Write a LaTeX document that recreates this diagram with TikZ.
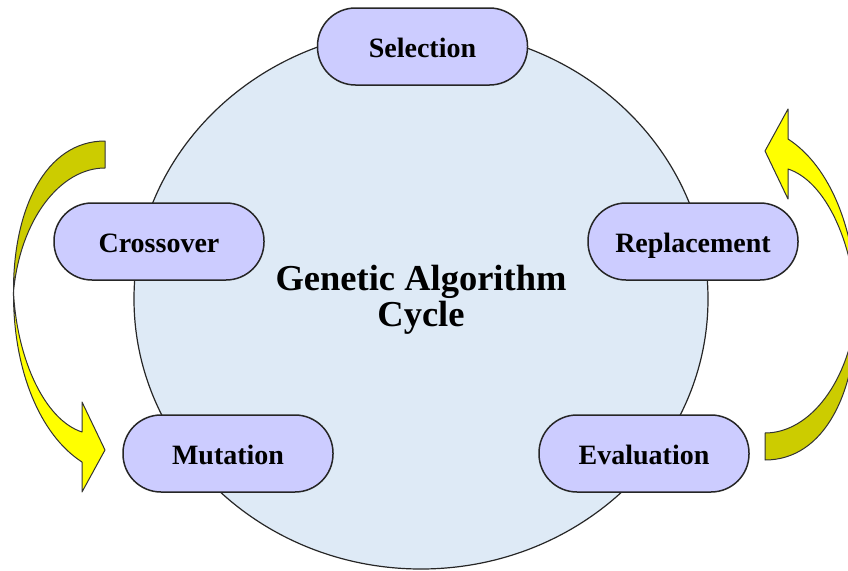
\documentclass[tikz,border=0pt]{standalone}
\usepackage{fontspec}
\setmainfont{Liberation Serif}
\usetikzlibrary{shapes.geometric}
\definecolor{cyclefill}{HTML}{DEEAF6}
\definecolor{boxfill}{HTML}{CCCCFF}
\definecolor{darkyellow}{HTML}{CCCC00}
\definecolor{brightyellow}{HTML}{FFFF00}
\tikzset{
  stagebox/.style={draw=black!85, line width=1.5pt, fill=boxfill, rounded corners=38pt,
    minimum width=210pt, minimum height=77pt, inner sep=0pt,
    text height=22pt, text depth=0pt,
    font=\fontsize{28}{34}\selectfont\bfseries},
  titletext/.style={anchor=base, inner sep=0pt, font=\fontsize{36.5}{40}\selectfont\bfseries},
  darkpart/.style={fill=darkyellow, draw=black!80, line width=1pt, line join=round},
  lightpart/.style={fill=brightyellow, draw=black!80, line width=1pt, line join=round},
}
\newcommand\gaArrow{%
  \filldraw[darkpart] (105,141) .. controls (45,141) and (13,210) .. (13.5,292)
     .. controls (20,220) and (60,168) .. (105,168) -- cycle;
  \filldraw[lightpart] (13.5,292) .. controls (13,370) and (40,435) .. (82,462)
     -- (82,492) -- (105,450) -- (82,402) -- (82,432)
     .. controls (45,420) and (17,360) .. (13.5,292) -- cycle;
}
\begin{document}
\begin{tikzpicture}[x=1pt,y=-1pt]
\useasboundingbox (0,0) rectangle (848,570);
\clip (0,0) rectangle (848,570);
\fill[white] (0,0) rectangle (848,570);
\node[ellipse, draw=black!85, line width=1.2pt, fill=cyclefill, inner sep=0pt,
  minimum width=574pt, minimum height=540pt] (cycle) at (421,299) {};
\node[titletext] (title1) at (421,290) {Genetic Algorithm};
\node[titletext] (title2) at (421,326) {Cycle};
\node[stagebox] (selection) at (422.5,46.5) {Selection};
\node[stagebox] (crossover) at (159,241.5) {Crossover};
\node[stagebox] (replacement) at (693,241.5) {Replacement};
\node[stagebox] (mutation) at (228,453.5) {Mutation};
\node[stagebox] (evaluation) at (644,453.5) {Evaluation};
\gaArrow
\begin{scope}[rotate around={180:(435,300.5)}]
\gaArrow
\end{scope}
\end{tikzpicture}
\end{document}
